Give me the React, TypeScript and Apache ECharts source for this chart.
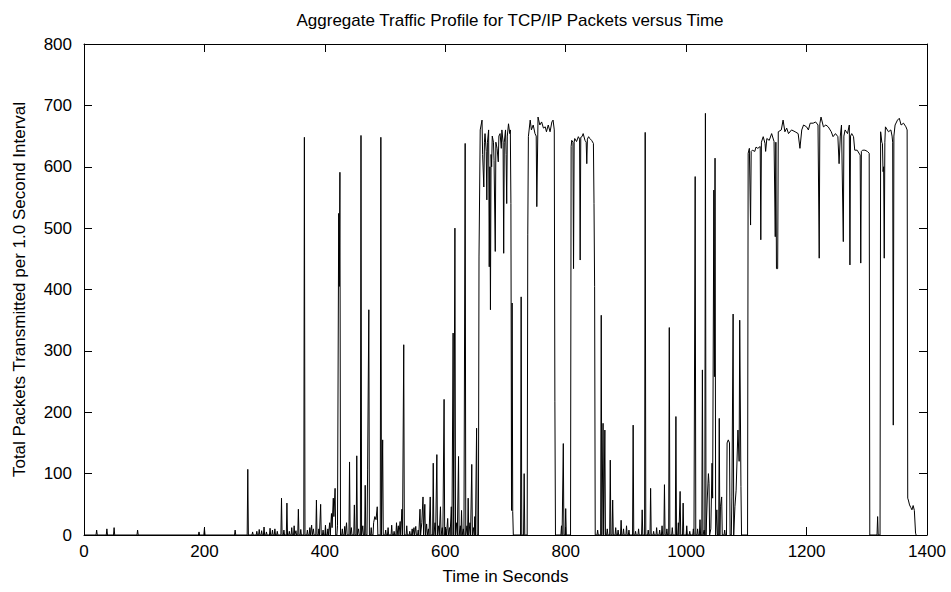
import React, { useEffect, useRef } from "react";
import * as echarts from "echarts";

const TITLE = "Aggregate Traffic Profile for TCP/IP Packets versus Time";
const X_NAME = "Time in Seconds";
const Y_NAME = "Total Packets Transmitted per 1.0 Second Interval";

const X_MIN = 0;
const X_MAX = 1400;
const X_STEP = 200;
const Y_MIN = 0;
const Y_MAX = 800;
const Y_STEP = 100;

// Readings [second, packets] grouped in bursts; between bursts the traffic is zero.
const earlySpikes: [number, number][][] = [
  [[21, 8]], [[38, 10]], [[50, 12]], [[89, 8]], [[191, 5]], [[200, 11]], [[251, 8]],
  [[272, 107]], [[280, 5]], [[287, 6]], [[291, 9]], [[295, 7]], [[299, 13]], [[303, 5]],
  [[309, 11]], [[313, 8]], [[317, 10]], [[321, 6]], [[328, 60]], [[332, 8]], [[337, 52]],
  [[341, 6]], [[345, 12]], [[349, 15]], [[352, 7]], [[356, 42]], [[360, 9]], [[366, 648]],
  [[371, 8]], [[375, 12]], [[378, 16]], [[381, 10]], [[386, 57]], [[390, 10]], [[393, 50]],
  [[397, 8]], [[401, 16]], [[405, 10]], [[408, 20]],
  [[411, 35], [412, 12], [414, 60], [415, 30], [417, 76]],
  [[421, 15], [423, 524], [424, 405], [425, 591]],
  [[429, 10]], [[433, 14]], [[436, 20]], [[441, 119]], [[444, 12]], [[449, 49]], [[453, 129]],
  [[456, 10]], [[460, 651]], [[463, 15]], [[467, 81]], [[471, 106], [473, 367]], [[477, 12]],
  [[481, 20], [483, 30], [485, 25], [487, 46]], [[493, 648]], [[496, 155]], [[501, 8]],
  [[505, 12]], [[511, 16]], [[515, 6]], [[519, 20]], [[522, 15]], [[525, 22]], [[528, 42]],
  [[531, 310]], [[536, 15]], [[541, 6]], [[545, 10]], [[548, 12]], [[551, 14]], [[555, 8]],
  [[558, 42]], [[561, 20], [563, 62]], [[566, 50]], [[569, 18]], [[572, 10]], [[575, 62]],
  [[580, 117]], [[583, 20]], [[586, 131]], [[589, 15]], [[592, 46]], [[595, 12]], [[598, 221]],
  [[601, 10]], [[604, 27]], [[607, 12]], [[610, 46]], [[613, 329]], [[616, 500]], [[619, 20]],
  [[622, 128]], [[625, 15]], [[627, 40]], [[630, 10]], [[633, 638]], [[636, 15]], [[638, 60]],
  [[641, 20]], [[644, 115]], [[647, 12]], [[649, 30]], [[652, 174]],
];

const burstA: [number, number][] = [
  [656, 453], [658, 660], [661, 676], [662, 620], [664, 567], [665, 640], [666, 654], [668, 625],
  [669, 546], [670, 640], [672, 660], [673, 437], [674, 600], [675, 367], [676, 620], [677, 600],
  [678, 650], [680, 640], [681, 610], [683, 462], [684, 640], [686, 630], [688, 608], [689, 650],
  [691, 654], [693, 630], [694, 660], [696, 640], [697, 459], [698, 640], [700, 660], [701, 620],
  [702, 540], [703, 650], [705, 670], [707, 654], [708, 660], [709, 540], [710, 40], [711, 378],
  [712, 38],
];

const plateau1: [number, number][] = [
  [737, 489], [738, 649], [741, 676], [743, 660], [746, 668], [749, 654], [751, 650], [752, 535],
  [754, 681], [757, 668], [760, 673], [763, 663], [766, 665], [768, 657], [771, 668], [774, 657],
  [777, 673], [779, 676], [781, 660], [782, 217],
];

const plateau2: [number, number][] = [
  [809, 633], [810, 643], [812, 640], [813, 434], [814, 640], [815, 646], [818, 641], [821, 649],
  [823, 645], [824, 448], [825, 648], [827, 649], [829, 654], [832, 643], [834, 640], [835, 605],
  [836, 645], [838, 649], [840, 646], [843, 643], [846, 638], [847, 540], [848, 405],
];

const midSpikes: [number, number][][] = [
  [[726, 388]], [[731, 100]],
];

const gapSpikes1: [number, number][][] = [
  [[793, 15]], [[796, 149]], [[800, 43]],
];

const lateSpikes: [number, number][][] = [
  [[853, 8]], [[859, 358]], [[862, 182]], [[865, 171]], [[869, 10]], [[874, 122]], [[878, 57]],
  [[883, 12]], [[887, 8]], [[892, 24]], [[896, 10]], [[901, 15]], [[905, 8]], [[912, 179]],
  [[916, 6]], [[921, 10]], [[927, 41]], [[932, 656]], [[937, 8]], [[941, 76]], [[946, 6]],
  [[951, 12]], [[956, 8]], [[960, 15]], [[964, 82]], [[968, 10]], [[972, 338]], [[977, 12]],
  [[983, 193]], [[987, 20]], [[990, 71]], [[995, 52]], [[1001, 15]], [[1006, 6]], [[1012, 10]],
  [[1015, 584]], [[1019, 10]], [[1023, 25]], [[1027, 269]], [[1030, 8]], [[1032, 687]],
  [[1035, 57], [1037, 100], [1038, 84]],
  [[1041, 10], [1043, 117], [1044, 60], [1046, 562], [1047, 258], [1048, 614]],
  [[1051, 41]], [[1055, 190]], [[1057, 46], [1059, 62]], [[1064, 8]],
  [[1068, 150], [1070, 155], [1072, 150]], [[1076, 62], [1078, 360]],
  [[1081, 46], [1083, 73], [1086, 171], [1088, 120], [1089, 350], [1091, 79]],
];

const plateau3: [number, number][] = [
  [1103, 622], [1105, 630], [1107, 505], [1108, 625], [1110, 627], [1114, 625], [1116, 632],
  [1119, 630], [1123, 633], [1124, 481], [1125, 640], [1128, 649], [1131, 638], [1132, 625],
  [1134, 646], [1138, 643], [1142, 654], [1146, 641], [1148, 486], [1149, 640], [1150, 434],
  [1152, 434], [1153, 657], [1158, 660], [1161, 676], [1164, 657], [1167, 663], [1170, 654],
  [1175, 660], [1181, 657], [1186, 654], [1189, 630], [1192, 660], [1195, 668], [1200, 665],
  [1203, 660], [1206, 671], [1211, 671], [1215, 673], [1219, 668], [1221, 451], [1222, 670],
  [1224, 681], [1228, 665], [1232, 668], [1236, 665], [1241, 657], [1244, 649], [1248, 654],
  [1252, 649], [1254, 605], [1256, 650], [1258, 668], [1261, 478], [1262, 650], [1264, 660],
  [1268, 654], [1271, 668], [1272, 440], [1273, 650], [1275, 654], [1278, 649], [1280, 627],
  [1284, 627], [1289, 619], [1290, 443], [1291, 625], [1293, 627], [1297, 627], [1301, 625],
  [1304, 622],
];

const gapSpikes2: [number, number][][] = [[[1318, 30]]];

const plateau4: [number, number][] = [
  [1323, 657], [1325, 640], [1326, 638], [1327, 592], [1328, 600], [1329, 451], [1330, 640],
  [1331, 665], [1336, 657], [1340, 660], [1342, 650], [1343, 640], [1344, 179], [1345, 650],
  [1347, 668], [1351, 676], [1354, 679], [1357, 668], [1361, 671], [1365, 665], [1367, 660],
  [1368, 60], [1369, 57], [1371, 49], [1373, 45], [1375, 41], [1377, 48], [1379, 40], [1381, 3],
];

const bursts: [number, number][][] = [
  ...earlySpikes,
  burstA,
  ...midSpikes,
  plateau1,
  ...gapSpikes1,
  plateau2,
  ...lateSpikes,
  plateau3,
  ...gapSpikes2,
  plateau4,
];

function buildSeries(groups: [number, number][][]): [number, number][] {
  const out: [number, number][] = [[0, 0]];
  for (const g of groups) {
    out.push([g[0][0] - 1, 0]);
    for (const p of g) out.push(p);
    out.push([g[g.length - 1][0] + 1, 0]);
  }
  return out;
}

const FONT = '"Liberation Sans", Arial, Helvetica, sans-serif';
const FS = 17;

export default function App() {
  const ref = useRef<HTMLDivElement>(null);

  useEffect(() => {
    if (!ref.current) return;
    const chart = echarts.init(ref.current, undefined, { renderer: "svg" });
    const axisLine = { show: true, onZero: false, lineStyle: { color: "#000", width: 1 } };
    const axisTick = { show: true, inside: true, length: 8, lineStyle: { color: "#000", width: 1 } };
    const label = { color: "#000", fontSize: FS, fontFamily: FONT };
    chart.setOption({
      animation: false,
      backgroundColor: "#fff",
      title: {
        text: TITLE,
        left: 505,
        top: 7,
        textAlign: "center",
        textStyle: { color: "#000", fontSize: FS, fontWeight: "normal", fontFamily: FONT },
      },
      grid: { left: 84, right: 24, top: 44, bottom: 57 },
      xAxis: [
        {
          type: "value",
          position: "bottom",
          min: X_MIN,
          max: X_MAX,
          interval: X_STEP,
          name: X_NAME,
          nameLocation: "middle",
          nameGap: 33,
          nameTextStyle: label,
          axisLine,
          axisTick,
          axisLabel: { ...label, margin: 8, formatter: (v: number) => String(v) },
          splitLine: { show: false },
        },
        {
          type: "value",
          position: "top",
          min: X_MIN,
          max: X_MAX,
          interval: X_STEP,
          axisLine,
          axisTick,
          axisLabel: { show: false },
          splitLine: { show: false },
        },
      ],
      yAxis: [
        {
          type: "value",
          position: "left",
          min: Y_MIN,
          max: Y_MAX,
          interval: Y_STEP,
          name: Y_NAME,
          nameLocation: "middle",
          nameGap: 56,
          nameRotate: 90,
          nameTextStyle: label,
          axisLine,
          axisTick,
          axisLabel: { ...label, margin: 12, formatter: (v: number) => String(v) },
          splitLine: { show: false },
        },
        {
          type: "value",
          position: "right",
          min: Y_MIN,
          max: Y_MAX,
          interval: Y_STEP,
          axisLine,
          axisTick,
          axisLabel: { show: false },
          splitLine: { show: false },
        },
      ],
      series: [
        {
          type: "line",
          xAxisIndex: 0,
          yAxisIndex: 0,
          data: buildSeries(bursts),
          symbol: "none",
          showSymbol: false,
          lineStyle: { color: "#000", width: 1 },
          silent: true,
        },
      ],
    });
    return () => chart.dispose();
  }, []);

  return (
    <div
      ref={ref}
      style={{ position: "fixed", left: 0, top: 0, width: 951, height: 592, background: "#fff" }}
    />
  );
}
